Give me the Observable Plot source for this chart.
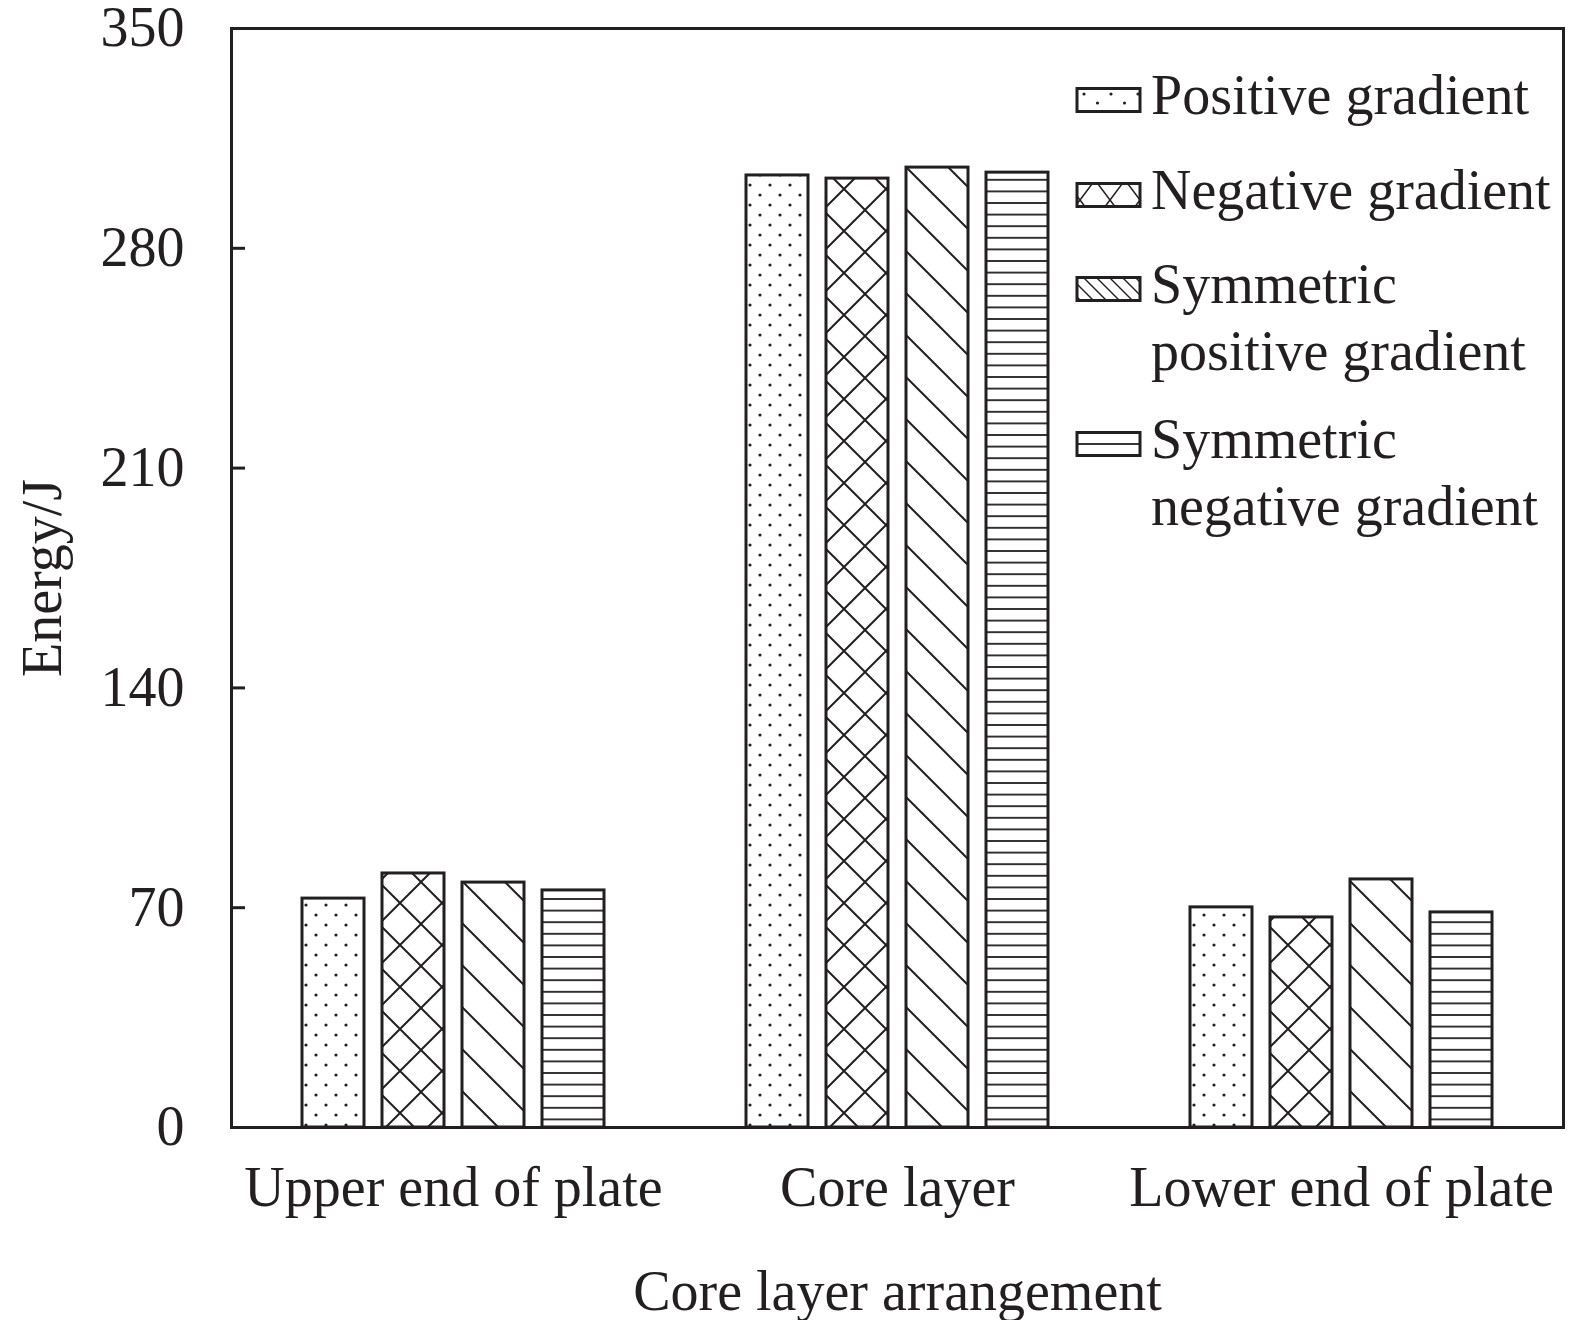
<!DOCTYPE html>
<html><head><meta charset="utf-8">
<script src="https://cdn.jsdelivr.net/npm/d3@7"></script>
<script src="https://cdn.jsdelivr.net/npm/@observablehq/plot@0.6"></script>
<style>
body{margin:0;background:#fff}
#chart{position:relative;width:1575px;height:1320px}
#legend{position:absolute;left:0;top:0;pointer-events:none}
</style>
</head><body>
<svg width="0" height="0" style="position:absolute">
  <defs>
    <pattern id="pat-dots" patternUnits="userSpaceOnUse" width="20" height="20">
      <circle cx="5" cy="5" r="1.6" fill="#231f20"/>
      <circle cx="15" cy="15" r="1.6" fill="#231f20"/>
    </pattern>
    <pattern id="pat-cross" patternUnits="userSpaceOnUse" width="42" height="42">
      <path d="M-2,-2L44,44M44,-2L-2,44" stroke="#231f20" stroke-width="2" fill="none"/>
    </pattern>
    <pattern id="pat-diag" patternUnits="userSpaceOnUse" width="42" height="42">
      <path d="M-2,-2L44,44M-4,38L4,46M38,-4L46,4" stroke="#231f20" stroke-width="2" fill="none"/>
    </pattern>
    <pattern id="pat-horiz" patternUnits="userSpaceOnUse" width="20" height="11.6">
      <path d="M0,5.8H20" stroke="#231f20" stroke-width="1.8" fill="none"/>
    </pattern>
    <pattern id="leg-dots" patternUnits="userSpaceOnUse" width="27" height="18">
      <circle cx="4" cy="4" r="1.6" fill="#231f20"/>
      <circle cx="17.5" cy="13" r="1.6" fill="#231f20"/>
    </pattern>
    <pattern id="leg-cross" patternUnits="userSpaceOnUse" width="30" height="40">
      <path d="M-1,-1.33L31,41.33M31,-1.33L-1,41.33" stroke="#231f20" stroke-width="1.6" fill="none"/>
    </pattern>
    <pattern id="leg-diag" patternUnits="userSpaceOnUse" width="13" height="13">
      <path d="M-2,-2L15,15M-3,10L3,16M10,-3L16,3" stroke="#231f20" stroke-width="1.4" fill="none"/>
    </pattern>
    <pattern id="leg-horiz" patternUnits="userSpaceOnUse" width="20" height="24">
      <path d="M0,12H20" stroke="#231f20" stroke-width="1.8" fill="none"/>
    </pattern>
  </defs>
</svg>
<div id="chart"></div>
<script>
const groups = ["Upper end of plate", "Core layer", "Lower end of plate"];
const series = ["Positive gradient", "Negative gradient", "Symmetric positive gradient", "Symmetric negative gradient"];
const legendLines = [["Positive gradient"], ["Negative gradient"], ["Symmetric", "positive gradient"], ["Symmetric", "negative gradient"]];
const upperValues = [72.9, 80.9, 78.0, 75.5];
const coreValues = [303.2, 302.2, 305.7, 304.1];
const lowerValues = [70.1, 66.9, 79.0, 68.5];
const yTicks = [0, 70, 140, 210, 280, 350];
const yTitle = "Energy/J";
const xTitle = "Core layer arrangement";
const patternNames = ["dots", "cross", "diag", "horiz"];

const data = [upperValues, coreValues, lowerValues].flatMap((vals, gi) =>
  vals.map((v, si) => ({group: groups[gi], series: series[si], value: v})));

const ink = "#231f20";
const font = "'Liberation Serif','Times New Roman',serif";

const plot = Plot.plot({
  width: 1575,
  height: 1320,
  marginLeft: 230,
  marginRight: 11,
  marginTop: 28,
  marginBottom: 193,
  style: {fontFamily: font, fontSize: "56px", color: ink, background: "white", overflow: "visible"},
  fx: {domain: groups, padding: 0, label: null, axis: null},
  x: {domain: series, paddingInner: 0.22, paddingOuter: 0.872, axis: null},
  y: {domain: [0, 350], ticks: yTicks, label: null},
  color: {domain: series, range: patternNames.map(p => `url(#pat-${p})`)},
  marks: [
    Plot.barY(data, {fx: "group", x: "series", y: "value", fill: "series", stroke: ink, strokeWidth: 3}),
    Plot.frame({facet: "super", stroke: ink, strokeWidth: 3}),
    Plot.axisY({ticks: yTicks, tickSize: -14, tickPadding: 61, strokeWidth: 3, fontSize: 56, label: null}),
    Plot.axisFx({anchor: "bottom", tickSize: 0, tickPadding: 39, fontSize: 56, label: null}),
    Plot.text([yTitle], {facet: "super", frameAnchor: "left", rotate: -90, dx: -188, textAnchor: "middle", lineAnchor: "middle", fontSize: 56, fill: ink}),
    Plot.text([xTitle], {facet: "super", frameAnchor: "bottom", dy: 182, fontSize: 56, fill: ink})
  ]
});
document.getElementById("chart").appendChild(plot);

// legend overlay inside the plot frame
const legend = d3.select("#chart").append("svg")
  .attr("id", "legend").attr("width", 1575).attr("height", 1320)
  .style("font-family", font).style("font-size", "56px");
const baselines = [114, 209, 303, 458];
legendLines.forEach((lines, i) => {
  const b = baselines[i];
  legend.append("rect")
    .attr("x", 1077).attr("y", b - 14 - 11.5).attr("width", 63).attr("height", 23)
    .attr("fill", `url(#leg-${patternNames[i]})`).attr("stroke", ink).attr("stroke-width", 3);
  lines.forEach((t, j) => {
    legend.append("text").attr("x", 1151).attr("y", b + j * 67).attr("fill", ink).text(t);
  });
});
</script>
</body></html>
